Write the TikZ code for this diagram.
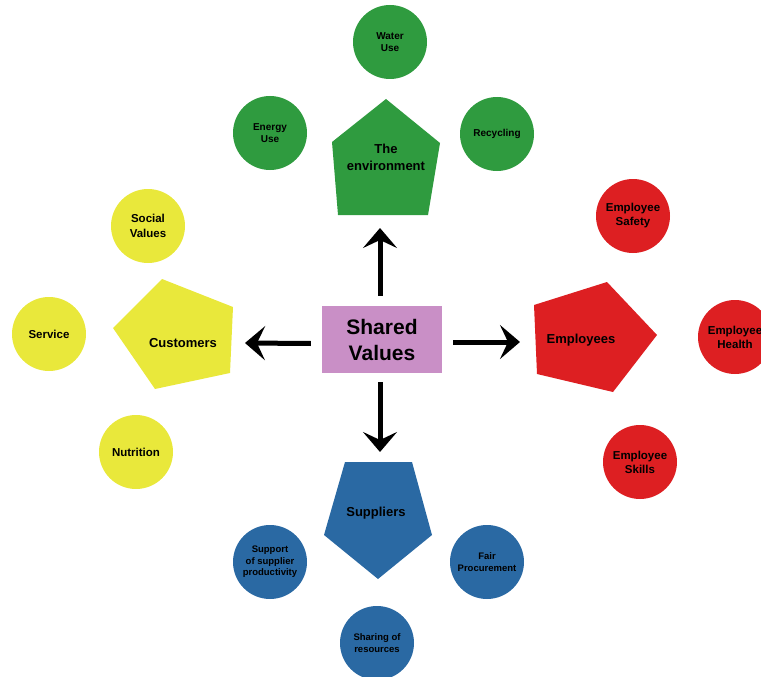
\documentclass[tikz,border=0pt]{standalone}
\usepackage{fontspec}
\setmainfont{Liberation Sans}
\usetikzlibrary{arrows.meta}
\definecolor{cgreen}{HTML}{2F9B3F}
\definecolor{cyellow}{HTML}{E9E83B}
\definecolor{cred}{HTML}{DD1F22}
\definecolor{cblue}{HTML}{2A69A3}
\definecolor{cpink}{HTML}{C98FC6}
\tikzset{
  bub/.style={circle,minimum size=74pt,inner sep=0pt,align=center,font=\bfseries\fontsize{10}{12}\selectfont},
  gbub/.style={bub,fill=cgreen},
  ybub/.style={bub,fill=cyellow,font=\bfseries\fontsize{11.5}{15}\selectfont},
  rbub/.style={bub,fill=cred,font=\bfseries\fontsize{11.5}{14}\selectfont},
  bbub/.style={bub,fill=cblue,font=\bfseries\fontsize{9.5}{11.5}\selectfont},
  plabel/.style={align=center,font=\bfseries\fontsize{13}{17}\selectfont},
  arr/.style={line width=5pt,-{Stealth[length=20pt,width=34pt,inset=8pt]}}
}
\begin{document}
\begin{tikzpicture}[x=1pt,y=-1pt]
\useasboundingbox (0,0) rectangle (761,677);
\begin{scope}
\clip (0,0) rectangle (761,677);
% pentagons
\fill[cgreen] (386,99) -- (440,143) -- (428,215) -- (338,215) -- (332,142) -- cycle;
\fill[cyellow] (113,328) -- (162,279) -- (233,307) -- (230,373) -- (155,389) -- cycle;
\fill[cred] (534,305) -- (607,282) -- (657,335) -- (613,392) -- (537,374) -- cycle;
\fill[cblue] (345,462) -- (412,462) -- (432,535) -- (378,579) -- (324,535) -- cycle;
\node[plabel] (env) at (386,157) {The\\environment};
\node[plabel] (cust) at (183,343) {Customers};
\node[plabel] (emp) at (581,340) {Employees};
\node[plabel] (sup) at (376,513) {Suppliers};
% circles
\node[gbub] (water) at (390,42) {Water\\Use};
\node[gbub] (energy) at (270,133) {Energy\\Use};
\node[gbub] (recyc) at (497,134) {Recycling};
\node[ybub] (social) at (148,226) {Social\\Values};
\node[ybub] (service) at (49,334) {Service};
\node[ybub] (nutr) at (136,452) {Nutrition};
\node[rbub] (safety) at (633,216) {Employee\\Safety};
\node[rbub] (health) at (735,337) {Employee\\Health};
\node[rbub] (skills) at (640,462) {Employee\\Skills};
\node[bbub] (support) at (270,562) {Support\\of supplier\\productivity};
\node[bbub] (fair) at (487,562) {Fair\\Procurement};
\node[bbub] (sharing) at (377,643) {Sharing of\\resources};
\end{scope}
% center
\node[fill=cpink,minimum width=120pt,minimum height=67pt,inner sep=0pt,align=center,
  font=\bfseries\fontsize{21}{26}\selectfont] (sv) at (382,339.5) {Shared\\Values};
\coordinate (tup) at (380,228);
\coordinate (tleft) at (245,343);
\coordinate (tright) at (520,342);
\coordinate (tdown) at (380,452);
\draw[arr] ([xshift=-2pt,yshift=10pt]sv.north) -- (tup);
\draw[arr] ([xshift=-11pt,yshift=-4pt]sv.west) -- (tleft);
\draw[arr] ([xshift=11pt,yshift=-2.5pt]sv.east) -- (tright);
\draw[arr] ([xshift=-2pt,yshift=-9pt]sv.south) -- (tdown);
\end{tikzpicture}
\end{document}
